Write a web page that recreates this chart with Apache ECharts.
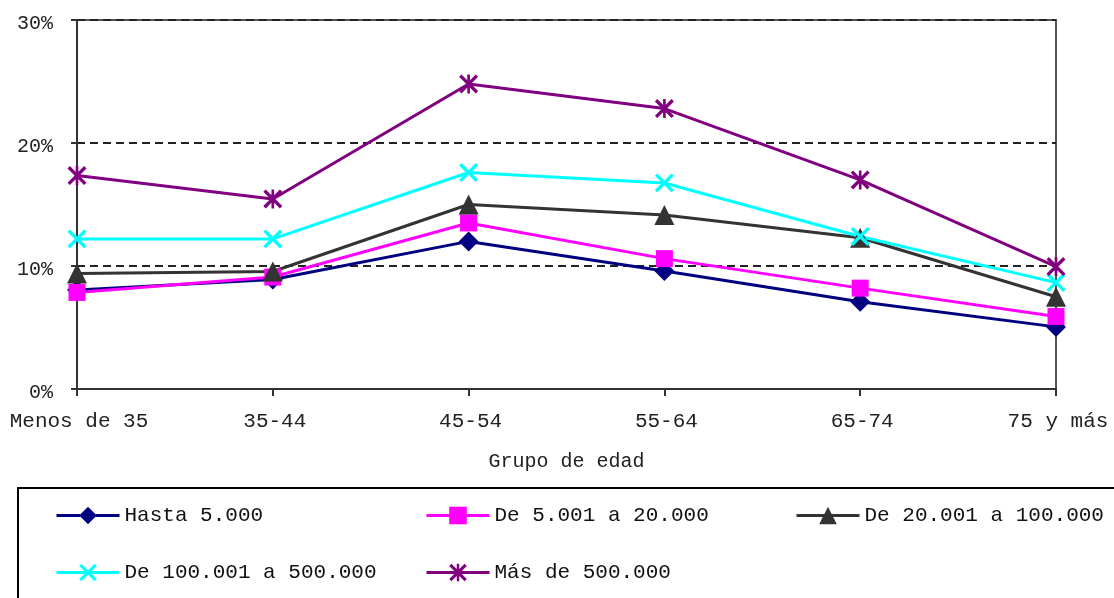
<!DOCTYPE html>
<html>
<head>
<meta charset="utf-8">
<script src="https://cdn.jsdelivr.net/npm/echarts@6/dist/echarts.min.js"></script>
<style>
  html, body { margin: 0; padding: 0; background: #ffffff; }
  #chart { width: 1114px; height: 598px; }
</style>
</head>
<body>
<div id="chart"></div>
<script>
// Age groups along the horizontal axis
const categories = ['Menos de 35', '35-44', '45-54', '55-64', '65-74', '75 y más'];

// Share (%) per municipality size
const hasta5000       = [8.05, 8.9, 12.0, 9.6, 7.1, 5.05];
const de5001a20000    = [7.85, 9.1, 13.5, 10.6, 8.2, 5.9];
const de20001a100000  = [9.4, 9.55, 15.0, 14.15, 12.3, 7.5];
const de100001a500000 = [12.2, 12.2, 17.6, 16.75, 12.4, 8.65];
const mas500000       = [17.35, 15.45, 24.8, 22.8, 17.0, 9.95];

const seriesNames = ['Hasta 5.000', 'De 5.001 a 20.000', 'De 20.001 a 100.000',
                     'De 100.001 a 500.000', 'Más de 500.000'];
const yTicks = [0, 10, 20, 30];

const FONT = '"Liberation Mono", "DejaVu Sans Mono", monospace';

// Filled cross and asterisk outlines (polygons, so the strokes stay solid at any size)
const crossPath = 'path://M2.5,0L20,17.5L17.5,20L0,2.5Z M17.5,0L20,2.5L2.5,20L0,17.5Z';
const starPath = 'path://M2.5,0L20,17.5L17.5,20L0,2.5Z M17.5,0L20,2.5L2.5,20L0,17.5Z M8.6,0L11.4,0L11.4,20L8.6,20Z';

const styles = [
  { data: hasta5000, color: '#000080', symbol: 'diamond', size: 20 },
  { data: de5001a20000, color: '#ff00ff', symbol: 'rect', size: 17 },
  { data: de20001a100000, color: '#333333', symbol: 'triangle', size: 20 },
  { data: de100001a500000, color: '#00ffff', symbol: crossPath, size: 19 },
  { data: mas500000, color: '#800080', symbol: starPath, size: 19 }
];

const series = styles.map((s, i) => ({
  name: seriesNames[i],
  type: 'line',
  data: s.data,
  symbol: s.symbol,
  symbolSize: s.size,
  showAllSymbol: true,
  lineStyle: { color: s.color, width: 3 },
  itemStyle: { color: s.color, borderWidth: 0 },
  emphasis: { disabled: true },
  animation: false
}));

// One legend block per entry so the columns line up like a table
const legendPos = [[55, 505], [425, 505], [795, 505], [55, 562], [425, 562]];
const legends = seriesNames.map((n, i) => ({
  data: [n],
  left: legendPos[i][0],
  top: legendPos[i][1],
  orient: 'horizontal',
  itemWidth: 63,
  itemHeight: 22,
  itemGap: 0,
  padding: 0,
  selectedMode: false,
  lineStyle: { width: 3 },
  textStyle: { fontFamily: FONT, fontSize: 21, color: '#111' }
}));

const chart = echarts.init(document.getElementById('chart'), null, { renderer: 'canvas' });
chart.setOption({
  backgroundColor: '#ffffff',
  animation: false,
  grid: {
    left: 77, right: 58, top: 20, bottom: 209,
    show: true, borderColor: '#555', borderWidth: 2, backgroundColor: 'transparent'
  },
  legend: legends,
  graphic: [{
    type: 'rect',
    shape: { x: 18, y: 488, width: 1200, height: 200 },
    style: { fill: 'none', stroke: '#000', lineWidth: 2 },
    silent: true,
    z: -1
  }],
  xAxis: {
    type: 'category',
    data: categories,
    boundaryGap: false,
    name: 'Grupo de edad',
    nameLocation: 'middle',
    nameGap: 63,
    nameTextStyle: { fontFamily: FONT, fontSize: 20, color: '#222', verticalAlign: 'top' },
    axisLine: { lineStyle: { color: '#333', width: 2 } },
    axisTick: { show: true, length: 7, lineStyle: { color: '#333', width: 2 } },
    axisLabel: { fontFamily: FONT, fontSize: 21, color: '#222', margin: 22, interval: 0,
                 padding: [0, 0, 0, 4] },
    splitLine: { show: false }
  },
  yAxis: {
    type: 'value',
    min: yTicks[0],
    max: yTicks[yTicks.length - 1],
    interval: 10,
    axisLine: { show: true, lineStyle: { color: '#333', width: 2 } },
    axisTick: { show: true, length: 6, lineStyle: { color: '#333', width: 2 } },
    axisLabel: { fontFamily: FONT, fontSize: 20, color: '#222', margin: 24,
                 verticalAlign: 'top', lineHeight: 20, padding: [-6, 0, 0, 0],
                 formatter: v => v + '%' },
    splitLine: { show: true, lineStyle: { color: '#222', width: 2, type: [8, 5] } }
  },
  series: series
});
</script>
</body>
</html>
